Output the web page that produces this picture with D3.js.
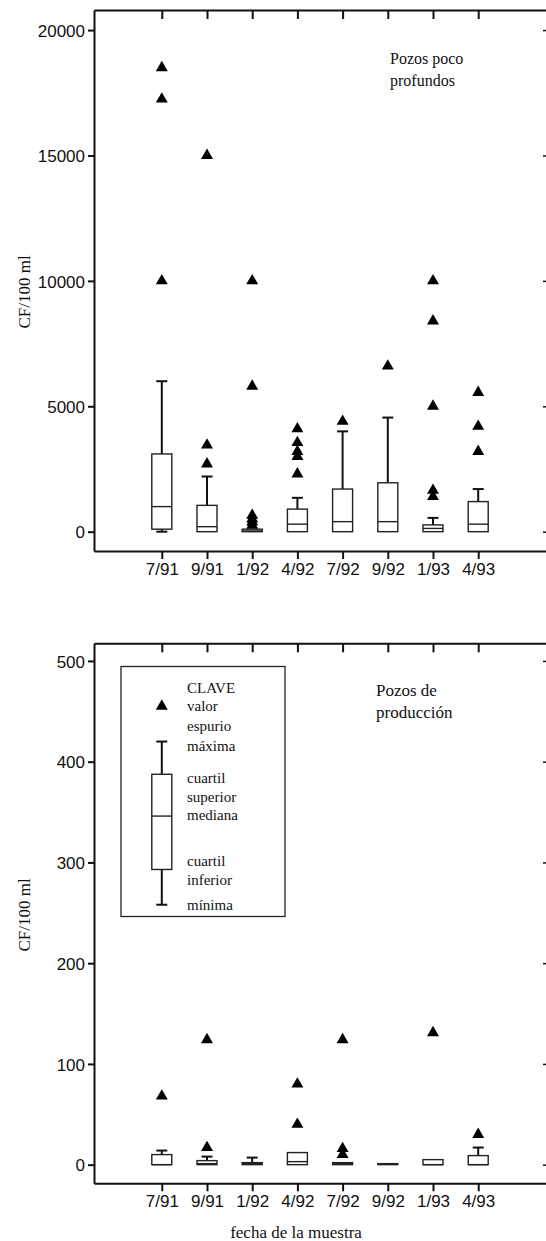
<!DOCTYPE html>
<html>
<head>
<meta charset="utf-8">
<script src="https://cdn.jsdelivr.net/npm/d3@7/dist/d3.min.js"></script>
<style>
  html, body { margin: 0; padding: 0; background: #fff; }
  svg { display: block; }
  .tick text { font-family: "Liberation Sans", Arial, sans-serif; font-size: 17px; fill: #111; }
  .serif { font-family: "Liberation Serif", "Times New Roman", serif; fill: #111; }
</style>
</head>
<body>
<svg id="chart" width="546" height="1241"></svg>
<script>
// Sampling dates (x categories)
const categories = ["7/91", "9/91", "1/92", "4/92", "7/92", "9/92", "1/93", "4/93"];

// Shallow wells (CF/100 ml)
const shallowMin    = [0, 0, 0, 0, 0, 0, 0, 0];
const shallowQ1     = [100, 0, 0, 0, 0, 0, 0, 0];
const shallowMedian = [1000, 200, 30, 300, 400, 400, 130, 300];
const shallowQ3     = [3100, 1050, 100, 900, 1700, 1950, 270, 1200];
const shallowMax    = [6000, 2200, 100, 1350, 4000, 4550, 550, 1700];
const shallowOutliers = [
  [18500, 17250, 10000],
  [15000, 3450, 2700],
  [10000, 5800, 650, 500, 380, 250],
  [4100, 3550, 3200, 3000, 2300],
  [4400],
  [6600],
  [10000, 8400, 5000, 1650, 1400],
  [5550, 4200, 3200]
];
const shallowTicks = [0, 5000, 10000, 15000, 20000];

// Production wells (CF/100 ml)
const prodMin    = [0, 0, 0, 0, 0, 0, 0, 0];
const prodQ1     = [0, 0, 0, 0, 0, 0, 0, 0];
const prodMedian = [0, 1, 1, 3, 1, 0.5, 0, 0];
const prodQ3     = [10, 4, 2, 12, 2, 1, 5, 9];
const prodMax    = [14, 8, 7, 12, 2, 1, 5, 17];
const prodOutliers = [
  [68],
  [124, 17],
  [],
  [80, 40],
  [124, 16, 10],
  [],
  [131],
  [30]
];
const prodTicks = [0, 100, 200, 300, 400, 500];

// Key: sample box drawn on the production scale
const keyStats = { min: 258, q1: 293, median: 346, q3: 387.5, max: 420, outlier: 455 };
const keyLines = [
  ["CLAVE", 688], ["valor", 706.5], ["espurio", 726], ["máxima", 746],
  ["cuartil", 778], ["superior", 797], ["mediana", 815],
  ["cuartil", 861.5], ["inferior", 880], ["mínima", 905.5]
];

const svg = d3.select("#chart");
const left = 94, right = 546;
const boxW = 20, capW = 11;
const tri = d3.symbol().type(d3.symbolTriangle).size(62);

const x = d3.scalePoint().domain(categories).range([left, right]).padding(1.5);

function panel(cfg) {
  const g = svg.append("g");
  const y = d3.scaleLinear().domain(cfg.domain).range([cfg.bottom, cfg.top]);

  // frame axes
  const la = g.append("g").attr("transform", `translate(${left},0)`)
    .call(d3.axisLeft(y).tickValues(cfg.ticks).tickFormat(d3.format("d"))
      .tickSize(6).tickSizeOuter(0).tickPadding(3));
  const ta = g.append("g").attr("transform", `translate(0,${cfg.top})`)
    .call(d3.axisTop(x).tickSize(-9).tickSizeOuter(0).tickFormat(""));
  const ra = g.append("g").attr("transform", `translate(548,0)`)
    .call(d3.axisRight(y).tickValues(cfg.ticks).tickSize(-5).tickSizeOuter(0).tickFormat(""));
  const ba = g.append("g").attr("transform", `translate(0,${cfg.bottom})`)
    .call(d3.axisBottom(x).tickSize(8).tickSizeOuter(0).tickPadding(4));
  [la, ta, ra, ba].forEach(a => {
    a.select(".domain").attr("stroke", "#111").attr("stroke-width", 2);
    a.selectAll(".tick line").attr("stroke", "#111").attr("stroke-width", 2);
  });
  la.selectAll(".tick text").attr("dy", "0.36em");
  ba.selectAll(".tick text").attr("dy", "0.71em");
  ra.selectAll(".tick line").attr("stroke-width", 1.5);

  const d = categories.map((c, i) => ({
    c, min: cfg.min[i], q1: cfg.q1[i], med: cfg.median[i], q3: cfg.q3[i], max: cfg.max[i], out: cfg.out[i]
  }));
  const grp = g.selectAll(".box").data(d).join("g").attr("class", "box")
    .attr("transform", v => `translate(${x(v.c)},0)`);
  drawBox(grp, y);

  grp.each(function(v) {
    d3.select(this).selectAll("path.out").data(v.out).join("path").attr("class", "out")
      .attr("d", tri).attr("fill", "#000")
      .attr("transform", o => `translate(0,${y(o)})`);
  });

  // y-axis title
  g.append("text").attr("class", "serif").attr("font-size", 17)
    .attr("text-anchor", "middle")
    .attr("transform", `translate(30,${cfg.titleY}) rotate(-90)`)
    .text("CF/100 ml");

  // panel label
  const lbl = g.append("text").attr("class", "serif").attr("font-size", cfg.labelSize);
  cfg.label.forEach((t, i) => lbl.append("tspan").attr("x", cfg.labelX).attr("y", cfg.labelY + i * 21.7).text(t));
  return y;
}

function drawBox(sel, y) {
  // upper whisker + cap
  sel.filter(v => v.max > v.q3).append("line")
    .attr("x1", 0).attr("x2", 0).attr("y1", v => y(v.q3)).attr("y2", v => y(v.max))
    .attr("stroke", "#111").attr("stroke-width", 2);
  sel.filter(v => v.max > v.q3).append("line")
    .attr("x1", -capW / 2).attr("x2", capW / 2).attr("y1", v => y(v.max)).attr("y2", v => y(v.max))
    .attr("stroke", "#111").attr("stroke-width", 2);
  // lower whisker + cap
  sel.filter(v => v.min < v.q1).append("line")
    .attr("x1", 0).attr("x2", 0).attr("y1", v => y(v.q1)).attr("y2", v => y(v.min))
    .attr("stroke", "#111").attr("stroke-width", 2);
  sel.filter(v => v.min < v.q1).append("line")
    .attr("x1", -capW / 2).attr("x2", capW / 2).attr("y1", v => y(v.min)).attr("y2", v => y(v.min))
    .attr("stroke", "#111").attr("stroke-width", 2);
  // box
  sel.append("rect")
    .attr("x", -boxW / 2).attr("width", boxW)
    .attr("y", v => y(v.q3)).attr("height", v => Math.max(1, y(v.q1) - y(v.q3)))
    .attr("fill", "#fff").attr("stroke", "#222").attr("stroke-width", 1.4);
  // median
  sel.append("line")
    .attr("x1", -boxW / 2).attr("x2", boxW / 2).attr("y1", v => y(v.med)).attr("y2", v => y(v.med))
    .attr("stroke", "#222").attr("stroke-width", 1.4);
}

// Shallow wells panel
panel({
  top: 10, bottom: 551, domain: [-770, 20800], ticks: shallowTicks,
  min: shallowMin, q1: shallowQ1, median: shallowMedian, q3: shallowQ3, max: shallowMax, out: shallowOutliers,
  titleY: 292, label: ["Pozos poco", "profundos"], labelX: 390, labelY: 64, labelSize: 16
});

// Production wells panel
const yP = panel({
  top: 643.3, bottom: 1183.3, domain: [-18.5, 517.5], ticks: prodTicks,
  min: prodMin, q1: prodQ1, median: prodMedian, q3: prodQ3, max: prodMax, out: prodOutliers,
  titleY: 915, label: ["Pozos de", "producción"], labelX: 376, labelY: 696, labelSize: 17
});

// Key
const key = svg.append("g");
key.append("rect").attr("x", 121).attr("y", 666.5).attr("width", 164).attr("height", 250)
  .attr("fill", "none").attr("stroke", "#222").attr("stroke-width", 1.3);
const ks = key.selectAll(".box").data([{
  min: keyStats.min, q1: keyStats.q1, med: keyStats.median, q3: keyStats.q3, max: keyStats.max
}]).join("g").attr("class", "box").attr("transform", `translate(${x(categories[0])},0)`);
drawBox(ks, yP);
key.append("path").attr("d", tri).attr("fill", "#000")
  .attr("transform", `translate(${x(categories[0])},${yP(keyStats.outlier)})`);
key.selectAll("text.k").data(keyLines).join("text").attr("class", "serif k")
  .attr("font-size", 15).attr("x", 187).attr("y", k => k[1]).attr("dy", "0.32em").text(k => k[0]);

// x-axis title
svg.append("text").attr("class", "serif").attr("font-size", 17).attr("text-anchor", "middle")
  .attr("x", 296).attr("y", 1238).text("fecha de la muestra");
</script>
</body>
</html>
